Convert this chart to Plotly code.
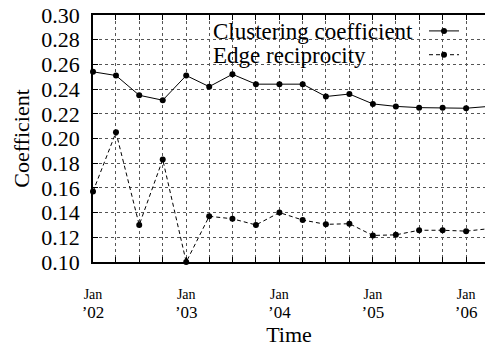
import plotly.graph_objects as go

dates = ["2002-01-01", "2002-04-01", "2002-07-01", "2002-10-01",
         "2003-01-01", "2003-04-01", "2003-07-01", "2003-10-01",
         "2004-01-01", "2004-04-01", "2004-07-01", "2004-10-01",
         "2005-01-01", "2005-04-01", "2005-07-01", "2005-10-01",
         "2006-01-01", "2006-04-01"]
clustering = [0.254, 0.251, 0.235, 0.231, 0.251, 0.242, 0.252, 0.244,
              0.244, 0.244, 0.234, 0.236, 0.228, 0.226, 0.225, 0.225,
              0.2245, 0.226]
reciprocity = [0.157, 0.205, 0.130, 0.183, 0.100, 0.137, 0.135, 0.130,
               0.140, 0.134, 0.1305, 0.131, 0.1215, 0.122, 0.1257, 0.1257,
               0.125, 0.127]
month_labels = ["Jan" if d[5:] == "01-01" else "" for d in dates]
year_labels = ["\u2019" + d[2:4] if d[5:] == "01-01" else "" for d in dates]
y_ticks = [0.10, 0.12, 0.14, 0.16, 0.18, 0.20, 0.22, 0.24, 0.26, 0.28, 0.30]
x_range = ["2002-01-01", "2006-03-16"]

FONT = "Liberation Serif"

fig = go.Figure()
fig.add_trace(go.Scatter(
    x=dates, y=clustering, mode="lines+markers", name=" ",
    line=dict(color="black", width=1), marker=dict(color="black", size=6),
    cliponaxis=False))
fig.add_trace(go.Scatter(
    x=dates, y=reciprocity, mode="lines+markers", name=" ",
    line=dict(color="black", width=1, dash="4px,3px"),
    marker=dict(color="black", size=6), cliponaxis=False))
# invisible trace so the secondary (year-label) axis is drawn
fig.add_trace(go.Scatter(
    x=dates, y=clustering, xaxis="x2", mode="lines", opacity=0,
    showlegend=False, hoverinfo="skip"))

fig.update_layout(
    width=485, height=347,
    margin=dict(l=93, r=0, t=15, b=81),
    paper_bgcolor="white", plot_bgcolor="white",
    font=dict(family=FONT, color="black"),
    showlegend=True,
    legend=dict(x=(424 - 93) / 392, xanchor="left", y=(266 - 14) / 251, yanchor="top",
                bgcolor="rgba(0,0,0,0)", borderwidth=0, font=dict(size=16),
                tracegroupgap=0),
    xaxis=dict(
        type="date", range=x_range,
        tickmode="array", tickvals=dates, ticktext=month_labels,
        tickfont=dict(size=14), ticklabelstandoff=18,
        ticks="inside", ticklen=5, tickcolor="black",
        showline=True, linecolor="black", linewidth=1.5, mirror="allticks",
        showgrid=True, gridcolor="#555", griddash="dot", gridwidth=1,
        zeroline=False,
        title=dict(text="Time", font=dict(size=22), standoff=30),
    ),
    xaxis2=dict(
        type="date", range=x_range, overlaying="x", side="bottom",
        tickmode="array", tickvals=dates, ticktext=year_labels,
        tickfont=dict(size=17), ticklabelstandoff=38,
        ticks="", showline=False, showgrid=False, zeroline=False,
    ),
    yaxis=dict(
        range=[0.10, 0.30], tickmode="array", tickvals=y_ticks,
        tickformat=".2f", tickfont=dict(size=22), ticklabelstandoff=7,
        ticks="inside", ticklen=5, tickcolor="black",
        showline=True, linecolor="black", linewidth=1.5, mirror=False,
        showgrid=True, gridcolor="#555", griddash="dot", gridwidth=1,
        zeroline=False,
        title=dict(text="Coefficient", font=dict(size=22), standoff=6),
    ),
    shapes=[dict(type="rect", xref="paper", yref="paper",
                 x0=(212 - 93) / 392, x1=(473 - 93) / 392,
                 y0=(266 - 68) / 251, y1=1.0,
                 fillcolor="white", line=dict(width=0), layer="between")],
    annotations=[
        dict(text="Clustering coefficient", xref="paper", yref="paper",
             x=(212 - 93) / 392, xanchor="left", y=(266 - 31.7) / 251, yanchor="middle",
             showarrow=False, font=dict(size=23), borderpad=0),
        dict(text="Edge reciprocity", xref="paper", yref="paper",
             x=(212 - 93) / 392, xanchor="left", y=(266 - 55.7) / 251, yanchor="middle",
             showarrow=False, font=dict(size=23), borderpad=0),
    ],
)

fig.write_html("out.html")
